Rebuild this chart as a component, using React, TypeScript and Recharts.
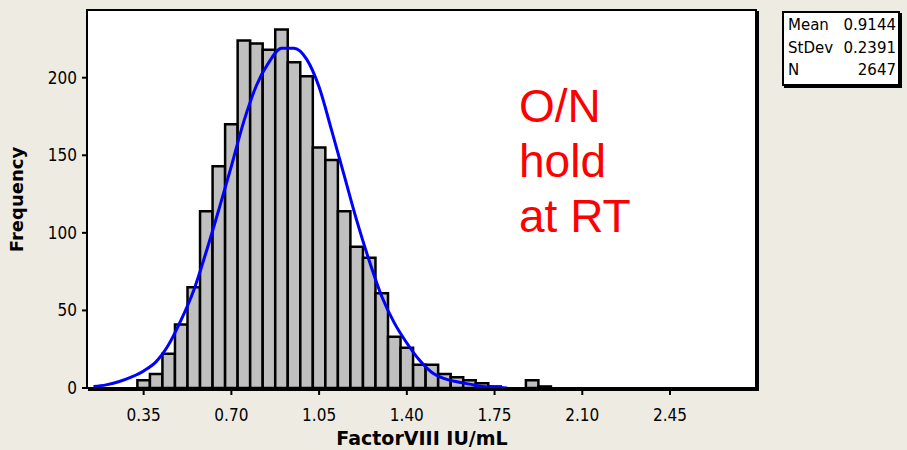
import { Bar, ComposedChart, Line, XAxis, YAxis } from "recharts";

// histogram bins (midpoints) and counts
const binMids = [
  0.35, 0.4, 0.45, 0.5, 0.55, 0.6, 0.65, 0.7, 0.75, 0.8, 0.85, 0.9, 0.95, 1.0, 1.05, 1.1, 1.15,
  1.2, 1.25, 1.3, 1.35, 1.4, 1.45, 1.5, 1.55, 1.6, 1.65, 1.7, 1.75, 1.8, 1.85, 1.9, 1.95,
];
const binCounts = [
  5, 9, 22, 41, 65, 114, 143, 170, 224, 222, 218, 231, 210, 201, 155, 147, 114,
  91, 84, 61, 33, 26, 15, 15, 9, 7, 5, 3, 1, 0, 0, 5, 1,
];

// fitted normal curve, estimated from the blue line
const fitX = [
  0.15, 0.2, 0.25, 0.3, 0.35, 0.4, 0.45, 0.5, 0.55, 0.6, 0.65, 0.7, 0.75, 0.8, 0.85, 0.9, 0.95,
  1.0, 1.05, 1.1, 1.15, 1.2, 1.25, 1.3, 1.35, 1.4, 1.45, 1.5, 1.55, 1.6, 1.65, 1.7, 1.75, 1.8,
];
const fitFreq = [
  1, 2, 4, 7, 11, 17, 28, 44, 63, 88, 115, 143, 172, 195, 210, 219, 219,
  212, 194, 166, 137, 108, 82, 59, 42, 29, 18, 10, 6, 4, 2.5, 1, 0.5, 0,
];

const xTicks = [0.35, 0.7, 1.05, 1.4, 1.75, 2.1, 2.45];
const yTicks = [0, 50, 100, 150, 200];

const statLabels = ["Mean", "StDev", "N"];
const statValues = ["0.9144", "0.2391", "2647"];

const noteLines = ["O/N", "hold", "at RT"];

const keys = Array.from(new Set([...binMids, ...fitX].map((v) => v.toFixed(2)))).sort(
  (a, b) => Number(a) - Number(b)
);
const rows = keys.map((k) => {
  const bi = binMids.findIndex((v) => v.toFixed(2) === k);
  const fi = fitX.findIndex((v) => v.toFixed(2) === k);
  return {
    x: Number(k),
    count: bi >= 0 ? binCounts[bi] : undefined,
    fit: fi >= 0 ? fitFreq[fi] : undefined,
  };
});

const tickFont = "'DejaVu Sans Condensed', 'DejaVu Sans', sans-serif";
const labelFont = "'DejaVu Sans', sans-serif";
const bg = "#eeebe3";

function XLabel(props: any) {
  const vb = props.viewBox || { x: 88, y: 388, width: 668, height: 62 };
  return (
    <text
      x={vb.x + vb.width / 2}
      y={vb.y + vb.height - 5}
      textAnchor="middle"
      fill="#000"
      fontSize={19}
      fontWeight="bold"
      fontFamily={labelFont}
    >
      FactorVIII IU/mL
    </text>
  );
}

function YLabel(props: any) {
  const vb = props.viewBox || { x: 0, y: 11, width: 88, height: 377 };
  const cx = 23;
  const cy = vb.y + vb.height / 2;
  return (
    <text
      x={cx}
      y={cy}
      transform={`rotate(-90 ${cx} ${cy})`}
      textAnchor="middle"
      fill="#000"
      fontSize={18}
      fontWeight="bold"
      fontFamily={labelFont}
    >
      Frequency
    </text>
  );
}

export default function App() {
  return (
    <div style={{ position: "absolute", left: 0, top: 0, width: 907, height: 450, background: bg, overflow: "hidden" }}>
      <div
        style={{
          position: "absolute",
          left: 86,
          top: 9,
          width: 671,
          height: 380,
          boxSizing: "border-box",
          border: "2px solid #000",
          background: "#fff",
          boxShadow: "2px 2px 0 #000",
        }}
      />
      <div style={{ position: "absolute", left: 0, top: 0 }}>
        <ComposedChart width={907} height={450} data={rows} margin={{ top: 11, right: 151, bottom: 0, left: 0 }}>
          <XAxis
            dataKey="x"
            type="number"
            domain={[0.128, 2.793]}
            allowDataOverflow
            ticks={xTicks}
            interval={0}
            tickFormatter={(v: number) => v.toFixed(2)}
            axisLine={false}
            tickLine={{ stroke: "#000", strokeWidth: 2 }}
            tickSize={7}
            tickMargin={14}
            tick={{ fill: "#000", fontSize: 17, fontFamily: tickFont }}
            height={62}
            label={{ content: (p: any) => <XLabel {...p} /> }}
          />
          <YAxis
            type="number"
            domain={[0, 243]}
            allowDataOverflow
            ticks={yTicks}
            interval={0}
            width={88}
            axisLine={false}
            tickLine={{ stroke: "#000", strokeWidth: 2 }}
            tickSize={6}
            tickMargin={5}
            tick={{ fill: "#000", fontSize: 17, fontFamily: tickFont }}
            label={{ content: (p: any) => <YLabel {...p} /> }}
          />
          <Bar dataKey="count" fill="#c0c0c0" stroke="#000" strokeWidth={2.5} barSize={12.5} isAnimationActive={false} />
          <Line
            dataKey="fit"
            type="monotone"
            stroke="#0000ff"
            strokeWidth={3}
            dot={false}
            activeDot={false}
            isAnimationActive={false}
          />
        </ComposedChart>
      </div>
      <div
        style={{
          position: "absolute",
          left: 519,
          top: 79,
          color: "#ff0000",
          fontFamily: "'Liberation Sans', Arial, sans-serif",
          fontSize: 46,
          lineHeight: "55px",
        }}
      >
        {noteLines.map((t) => (
          <div key={t}>{t}</div>
        ))}
      </div>
      <div
        style={{
          position: "absolute",
          left: 782,
          top: 11,
          width: 118,
          height: 75,
          boxSizing: "border-box",
          border: "2px solid #000",
          background: "#fff",
          boxShadow: "2px 2px 0 #000",
          padding: "1px 2px 0 4px",
          fontFamily: labelFont,
          fontSize: 15,
          lineHeight: "22.5px",
          color: "#000",
        }}
      >
        {statLabels.map((l, i) => (
          <div key={l} style={{ display: "flex", justifyContent: "space-between" }}>
            <span>{l}</span>
            <span>{statValues[i]}</span>
          </div>
        ))}
      </div>
    </div>
  );
}
